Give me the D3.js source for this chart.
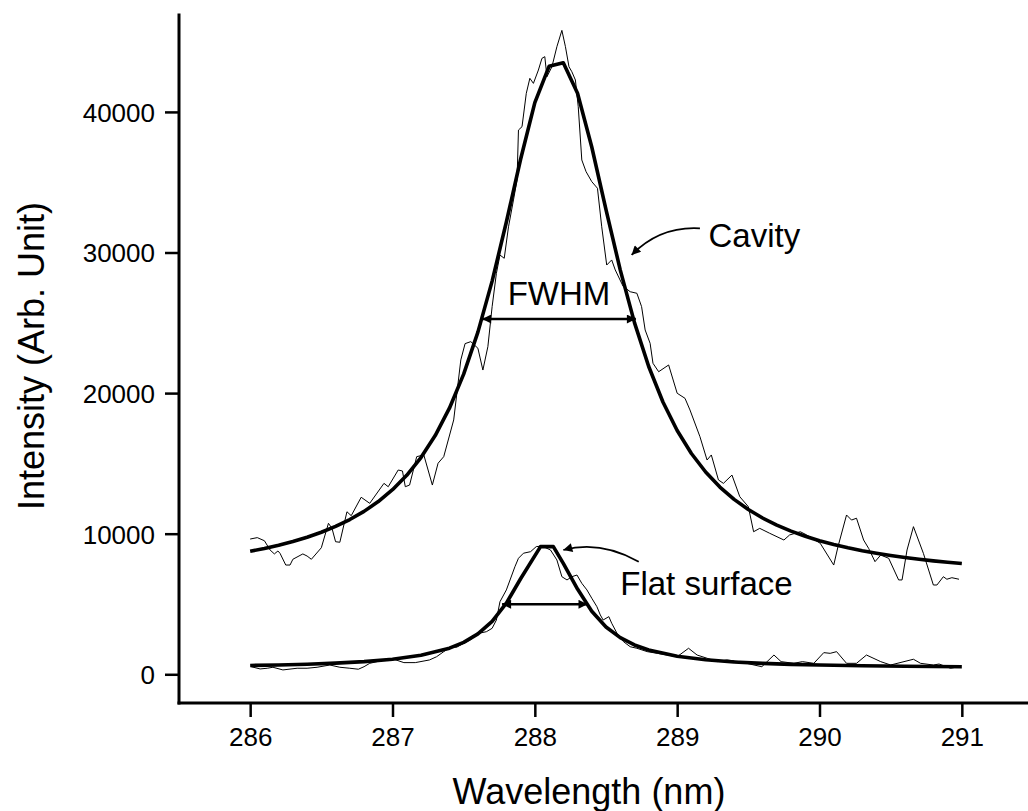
<!DOCTYPE html>
<html lang="en">
  <head>
    <meta charset="utf-8">
    <title>Cavity vs flat surface</title>
    <script src="https://d3js.org/d3.v7.min.js"></script>
    <style type="text/css">
        body { margin: 0; background: #fff; }
        svg { display: block; font-family: Arial, "Liberation Sans", sans-serif; }
        .tick text { font-size: 26px; fill: #000; }
        .tick line { stroke: #000; stroke-width: 2.5px; }
        .axis-line { stroke: #000; stroke-width: 3px; }
        .raw { fill: none; stroke: #000; stroke-width: 1px; stroke-linejoin: round; }
        .fit { fill: none; stroke: #000; stroke-width: 3.6px; stroke-linejoin: round; }
        .note { font-size: 33px; fill: #000; }
        .title { font-size: 36px; fill: #000; }
    </style>
  </head>
  <body>
    <div id="chart"></div>
    <script>
        // raw spectra, [wavelength nm, intensity]
        var cavityRaw = [
            [286.00, 9620], [286.05, 9720], [286.10, 9500], [286.14, 8840], [286.17, 8560],
            [286.195, 8770], [286.21, 8600], [286.25, 7770], [286.28, 7770], [286.30, 8180],
            [286.37, 8560], [286.40, 8410], [286.43, 8180], [286.50, 9000], [286.55, 10740],
            [286.575, 10380], [286.60, 9430], [286.63, 9390], [286.68, 11560], [286.71, 11280],
            [286.78, 12590], [286.84, 12160], [286.94, 13580], [286.97, 13340], [287.04, 14530],
            [287.07, 14460], [287.09, 13340], [287.12, 13460], [287.17, 15480], [287.22, 15600],
            [287.28, 13460], [287.32, 15010], [287.36, 15480], [287.43, 18090], [287.48, 22360],
            [287.51, 23520], [287.55, 23660], [287.60, 23190], [287.635, 21640], [287.67, 23300],
            [287.70, 26150], [287.73, 28520], [287.755, 29820], [287.785, 29590], [287.815, 31830],
            [287.85, 33740], [287.875, 35160], [287.885, 38710], [287.91, 38950], [287.94, 41320],
            [287.965, 42390], [287.99, 42030], [288.025, 42980], [288.05, 43810], [288.07, 43930],
            [288.085, 42500], [288.12, 43210], [288.155, 44640], [288.19, 45800], [288.215, 44640],
            [288.24, 43210], [288.26, 42860], [288.285, 42270], [288.305, 40370], [288.33, 36580],
            [288.36, 35750], [288.40, 35040], [288.44, 34570], [288.47, 31830], [288.505, 29110],
            [288.54, 29470], [288.565, 28760], [288.62, 27600], [288.67, 27210], [288.717, 27100],
            [288.75, 26150], [288.775, 24490], [288.81, 23540], [288.83, 22120], [288.87, 21520],
            [288.94, 22000], [289.00, 19990], [289.055, 19630], [289.09, 18800], [289.16, 16900],
            [289.21, 15240], [289.24, 15600], [289.29, 13820], [289.325, 13580], [289.385, 14170],
            [289.44, 12630], [289.50, 11920], [289.537, 10140], [289.58, 10380], [289.65, 10030],
            [289.75, 9550], [289.79, 9910], [289.865, 10140], [289.91, 9910], [290.005, 9320],
            [290.10, 7770], [290.13, 9080], [290.19, 11330], [290.225, 10970], [290.26, 11100],
            [290.31, 9550], [290.345, 8960], [290.39, 8010], [290.43, 8480], [290.486, 8250],
            [290.556, 6710], [290.58, 6710], [290.615, 8840], [290.66, 10500], [290.73, 8600],
            [290.80, 6350], [290.825, 6350], [290.87, 6940], [290.895, 6760], [290.93, 6870],
            [290.98, 6760]
        ];

        var flatRaw = [
            [286.007, 540], [286.07, 380], [286.12, 430], [286.16, 500], [286.23, 310],
            [286.33, 430], [286.40, 430], [286.47, 500], [286.56, 660], [286.63, 500],
            [286.70, 430], [286.76, 360], [286.80, 540], [286.84, 780], [286.94, 1020],
            [287.01, 1070], [287.08, 830], [287.16, 830], [287.26, 1020], [287.31, 1250],
            [287.36, 1610], [287.41, 1960], [287.45, 1920], [287.50, 2200], [287.545, 2440],
            [287.61, 2920], [287.66, 3030], [287.70, 3270], [287.73, 3860], [287.755, 5160],
            [287.80, 6000], [287.86, 7650], [287.885, 8250], [287.92, 8610], [287.97, 8720],
            [288.01, 9080], [288.05, 9120], [288.11, 8840], [288.155, 8130], [288.19, 6940],
            [288.226, 6710], [288.26, 6940], [288.296, 7060], [288.33, 6470], [288.366, 6000],
            [288.40, 5410], [288.436, 4810], [288.46, 4220], [288.48, 3860], [288.52, 4100],
            [288.54, 3630], [288.577, 2920], [288.623, 2320], [288.67, 1960], [288.717, 1850],
            [288.79, 1610], [288.86, 1490], [288.93, 1370], [289.00, 1250], [289.08, 1850],
            [289.14, 1370], [289.21, 1140], [289.28, 900], [289.35, 1020], [289.44, 900],
            [289.54, 660], [289.595, 540], [289.68, 1370], [289.73, 900], [289.82, 780],
            [289.88, 900], [289.96, 780], [290.03, 1540], [290.075, 1490], [290.12, 1610],
            [290.19, 780], [290.26, 780], [290.33, 1370], [290.43, 900], [290.50, 660],
            [290.66, 1070], [290.71, 780], [290.80, 660], [290.84, 730], [290.92, 430],
            [290.98, 540]
        ];

        // fitted curves, read every 0.1 nm (flat one has an extra point at its flat top)
        var fitWl = [
            286.0, 286.1, 286.2, 286.3, 286.4, 286.5, 286.6, 286.7, 286.8, 286.9,
            287.0, 287.1, 287.2, 287.3, 287.4, 287.5, 287.6, 287.7, 287.8, 287.9,
            288.0, 288.1, 288.2, 288.3, 288.4, 288.5, 288.6, 288.7, 288.8, 288.9,
            289.0, 289.1, 289.2, 289.3, 289.4, 289.5, 289.6, 289.7, 289.8, 289.9,
            290.0, 290.1, 290.2, 290.3, 290.4, 290.5, 290.6, 290.7, 290.8, 290.9, 291.0
        ];
        var cavityFit = [
            8752, 8952, 9181, 9445, 9749, 10103, 10517, 11007, 11588, 12285,
            13127, 14154, 15417, 16980, 18926, 21346, 24338, 27965, 32167, 36633,
            40665, 43241, 43494, 41331, 37504, 33055, 28764, 25012, 21895, 19367,
            17335, 15703, 14386, 13317, 12441, 11717, 11115, 10609, 10180, 9815,
            9502, 9231, 8996, 8790, 8609, 8450, 8308, 8182, 8069, 7967, 7876
        ];
        var flatFitWl = [
            286.0, 286.2, 286.4, 286.6, 286.8, 287.0, 287.2, 287.4, 287.5, 287.6,
            287.7, 287.8, 287.9, 288.04, 288.13, 288.2, 288.3, 288.4, 288.5, 288.6,
            288.7, 288.8, 289.0, 289.2, 289.4, 289.6, 289.8, 290.0, 290.3, 290.6, 291.0
        ];
        var flatFit = [
            626, 664, 717, 791, 899, 1068, 1349, 1856, 2271, 2874,
            3764, 5062, 6796, 9080, 9080, 7890, 6062, 4487, 3366, 2605,
            2087, 1727, 1279, 1028, 874, 774, 705, 656, 605, 571, 540
        ];

        // ticks
        var xMajor = [286, 287, 288, 289, 290, 291];
        var xMinor = [285.5, 286.5, 287.5, 288.5, 289.5, 290.5];
        var yMajor = [0, 10000, 20000, 30000, 40000];
        var yMinor = [5000, 15000, 25000, 35000, 45000];

        // annotations: [from wl, to wl, level]
        var fwhmCavity = [287.63, 288.71, 25270];
        var fwhmFlat = [287.77, 288.37, 4980];
        var labels = [
            {text: "FWHM", wl: 288.17, y: 26260, anchor: "middle"},
            {text: "Cavity", wl: 289.22, y: 30410, anchor: "start"},
            {text: "Flat surface", wl: 288.60, y: 5640, anchor: "start"}
        ];
        // curved pointers: start, control, tip
        var pointers = [
            [[289.16, 31720], [288.88, 31890], [288.68, 29830]],
            [[288.73, 8010], [288.46, 9550], [288.20, 8840]]
        ];

        var W = 1028, H = 811;

        var svg = d3.select("#chart").append("svg")
            .attr("width", W)
            .attr("height", H);

        var x = d3.scaleLinear().domain([285.5, 291.5]).range([179, 1033]);
        var y = d3.scaleLinear().domain([-2000, 47000]).range([702.4, 13.5]);

        svg.append("defs").append("marker")
            .attr("id", "head")
            .attr("viewBox", "0 0 10 10")
            .attr("refX", 10)
            .attr("refY", 5)
            .attr("markerUnits", "userSpaceOnUse")
            .attr("markerWidth", 16)
            .attr("markerHeight", 9)
            .attr("orient", "auto-start-reverse")
          .append("path")
            .attr("d", "M0,0L10,5L0,10z")
            .attr("fill", "#000");

        // axes
        var gy = svg.append("g").attr("transform", "translate(179,0)");
        gy.call(d3.axisLeft(y).tickValues(yMinor).tickSize(7).tickFormat(""));
        gy.call(d3.axisLeft(y).tickValues(yMajor).tickSize(14).tickPadding(10).tickFormat(d3.format("d")));
        gy.selectAll(".domain").remove();
        gy.selectAll("text").attr("dy", "0.36em");

        var gx = svg.append("g").attr("transform", "translate(0,703)");
        gx.call(d3.axisBottom(x).tickValues(xMinor).tickSize(8).tickFormat(""));
        gx.call(d3.axisBottom(x).tickValues(xMajor).tickSize(14).tickPadding(11).tickFormat(d3.format("d")));
        gx.selectAll(".domain").remove();

        svg.append("line").attr("class", "axis-line")
            .attr("x1", 179).attr("x2", 179).attr("y1", 13.5).attr("y2", 704.5);
        svg.append("line").attr("class", "axis-line")
            .attr("x1", 177.5).attr("x2", W).attr("y1", 703).attr("y2", 703);

        svg.append("text").attr("class", "title")
            .attr("x", 589).attr("y", 804)
            .attr("text-anchor", "middle")
            .text("Wavelength (nm)");

        svg.append("text").attr("class", "title")
            .attr("transform", "translate(44,356) rotate(-90)")
            .attr("text-anchor", "middle")
            .text("Intensity (Arb. Unit)");

        // curves
        var line = d3.line()
            .x(function(d) { return x(d[0]); })
            .y(function(d) { return y(d[1]); });

        svg.append("path").attr("class", "raw").attr("d", line(cavityRaw));
        svg.append("path").attr("class", "raw").attr("d", line(flatRaw));

        var cavityPts = fitWl.map(function(w, i) { return [w, cavityFit[i]]; });
        var flatPts = flatFitWl.map(function(w, i) { return [w, flatFit[i]]; });
        svg.append("path").attr("class", "fit").attr("d", line(cavityPts));
        svg.append("path").attr("class", "fit").attr("d", line(flatPts));

        // FWHM arrows
        [fwhmCavity, fwhmFlat].forEach(function(f) {
            svg.append("line")
                .attr("x1", x(f[0])).attr("x2", x(f[1]))
                .attr("y1", y(f[2])).attr("y2", y(f[2]))
                .attr("stroke", "#000")
                .attr("stroke-width", 2.5)
                .attr("marker-start", "url(#head)")
                .attr("marker-end", "url(#head)");
        });

        // pointers
        pointers.forEach(function(p) {
            var path = d3.path();
            path.moveTo(x(p[0][0]), y(p[0][1]));
            path.quadraticCurveTo(x(p[1][0]), y(p[1][1]), x(p[2][0]), y(p[2][1]));
            svg.append("path")
                .attr("d", path.toString())
                .attr("fill", "none")
                .attr("stroke", "#000")
                .attr("stroke-width", 1.8)
                .attr("marker-end", "url(#head)");
        });

        svg.selectAll(".note")
            .data(labels)
            .enter().append("text")
            .attr("class", "note")
            .attr("x", function(d) { return x(d.wl); })
            .attr("y", function(d) { return y(d.y); })
            .attr("text-anchor", function(d) { return d.anchor; })
            .text(function(d) { return d.text; });
    </script>
  </body>
</html>
